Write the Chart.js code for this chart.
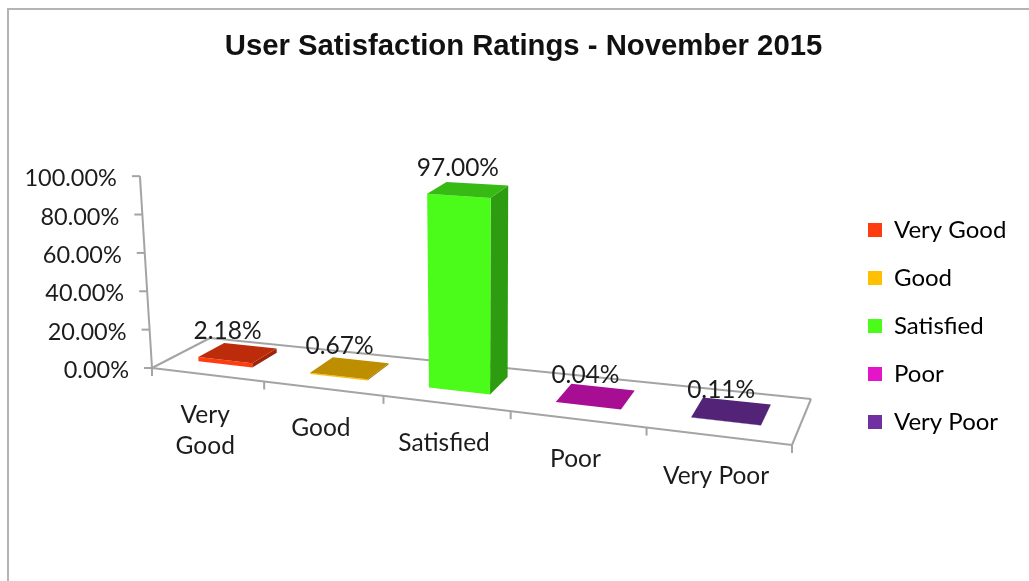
<!DOCTYPE html>
<html>
<head>
<meta charset="utf-8">
<style>html,body{margin:0;padding:0;background:#fff}canvas{display:block}</style>
<script src="https://cdn.jsdelivr.net/npm/chart.js@4"></script>
</head>
<body>
<canvas id="c" width="1029" height="581"></canvas>
<script>
const titleText = 'User Satisfaction Ratings - November 2015';
const categories = [['Very', 'Good'], 'Good', 'Satisfied', 'Poor', 'Very Poor'];
const ratings = [2.18, 0.67, 97.00, 0.04, 0.11];
const barColors = ['#FF3C0F', '#FFC000', '#4BFC1B', '#E414C8', '#7030A0'];
const TEXT = '#1c1c1c', LINE = '#a4a4a4', FONT = 'Lato';

// Look of the 3-D floor the bars stand on
const floorQuad = { fl: [152, 368], fr: [792, 445], br: [811, 399], bl: [210, 338] };
const persp = -0.15, barFront = 0.33, barBack = 0.79;

const tOf = u => u * (1 + persp) / (1 + persp * u);
function project(u, d, h) {
  const t = tOf(u), q = floorQuad;
  const fx = q.fl[0] + (q.fr[0] - q.fl[0]) * t, fy = q.fl[1] + (q.fr[1] - q.fl[1]) * t;
  const bx = q.bl[0] + (q.br[0] - q.bl[0]) * t, by = q.bl[1] + (q.br[1] - q.bl[1]) * t;
  const hh = h * (1 + 0.15 * t - 0.06 * d), lean = -0.063 + 0.13 * t;
  return [fx + (bx - fx) * d + lean * hh, fy + (by - fy) * d - hh];
}
function shade(hex, k) {
  const n = parseInt(hex.slice(1), 16);
  return `rgb(${(n >> 16) * k | 0},${((n >> 8) & 255) * k | 0},${(n & 255) * k | 0})`;
}
function poly(ctx, pts, fill) {
  ctx.beginPath();
  pts.forEach((p, i) => i ? ctx.lineTo(p[0], p[1]) : ctx.moveTo(p[0], p[1]));
  ctx.closePath();
  ctx.fillStyle = fill;
  ctx.fill();
}
function seg(ctx, a, b) {
  ctx.beginPath(); ctx.moveTo(a[0], a[1]); ctx.lineTo(b[0], b[1]); ctx.stroke();
}

const perspective = {
  id: 'perspective',
  afterLayout(chart) {
    const { x, y } = chart.scales, area = chart.chartArea;
    const w = area.right - area.left;
    y.getLabelItems(area).forEach((it, i) => {
      const v = y.ticks[i].value;
      const p = project(0, 0, y.getPixelForValue(0) - y.getPixelForValue(v));
      it.textOffset = 0;
      it.options.textAlign = 'right';
      it.options.textBaseline = 'middle';
      it.options.translation = [p[0] - 23, p[1] + 2.5];
    });
    x.getLabelItems(area).forEach((it, i) => {
      const p = project((x.getPixelForTick(i) - area.left) / w, 0, 0);
      it.textOffset = 0;
      it.options.textAlign = 'center';
      it.options.textBaseline = 'middle';
      it.options.translation = [p[0] - 2, p[1] + 40];
    });
    const lg = chart.legend, pad = lg.options.labels.padding;
    const dx = 868 - (lg.left + pad), dy = 326 - (lg.top + lg.bottom) / 2;
    lg.left += dx; lg.right += dx; lg.top += dy; lg.bottom += dy;
    chart.titleBlock.left += 9; chart.titleBlock.right += 9;
  },
  beforeDraw(chart) {
    const ctx = chart.ctx;
    ctx.save();
    ctx.fillStyle = '#fff';
    ctx.fillRect(0, 0, chart.width, chart.height);
    ctx.strokeStyle = '#b4b4b4';
    ctx.lineWidth = 2;
    ctx.strokeRect(8, 9, chart.width + 20, chart.height + 20);
    ctx.restore();
  },
  beforeDatasetsDraw(chart) {
    const ctx = chart.ctx, { x, y } = chart.scales;
    ctx.save();
    ctx.strokeStyle = LINE;
    ctx.lineWidth = 2;
    const fl = project(0, 0, 0), fr = project(1, 0, 0), br = project(1, 1, 0), bl = project(0, 1, 0);
    seg(ctx, fl, fr); seg(ctx, fr, br); seg(ctx, br, bl); seg(ctx, bl, fl);
    const top = y.getPixelForValue(0) - y.getPixelForValue(y.max);
    seg(ctx, fl, project(0, 0, top));
    y.ticks.forEach(t => {
      const p = project(0, 0, y.getPixelForValue(0) - y.getPixelForValue(t.value));
      seg(ctx, [p[0] - 8, p[1]], p);
    });
    const n = x.ticks.length;
    for (let i = 0; i <= n; i++) {
      const p = project(i / n, 0, 0);
      seg(ctx, p, [p[0], p[1] + 8]);
    }
    ctx.restore();
  },
  beforeDatasetDraw(chart, args) {
    const ctx = chart.ctx, area = chart.chartArea, w = area.right - area.left;
    args.meta.data.forEach((el, i) => {
      const u0 = (el.x - el.width / 2 - area.left) / w, u1 = (el.x + el.width / 2 - area.left) / w;
      const h = el.base - el.y, c = barColors[i];
      const a = project(u0, barFront, 0), b = project(u1, barFront, 0), e = project(u1, barBack, 0);
      const A = project(u0, barFront, h), B = project(u1, barFront, h), E = project(u1, barBack, h), F = project(u0, barBack, h);
      poly(ctx, [b, e, E, B], shade(c, 0.62));
      poly(ctx, [a, b, B, A], c);
      poly(ctx, [A, B, E, F], shade(c, 0.74));
    });
    return false;
  },
  afterDatasetsDraw(chart) {
    const ctx = chart.ctx, area = chart.chartArea, w = area.right - area.left;
    const meta = chart.getDatasetMeta(0);
    ctx.save();
    ctx.font = `24.5px ${FONT}`;
    ctx.fillStyle = TEXT;
    ctx.textAlign = 'center';
    ctx.textBaseline = 'middle';
    meta.data.forEach((el, i) => {
      const p = project((el.x - area.left) / w, (barFront + barBack) / 2, el.base - el.y);
      ctx.fillText(ratings[i].toFixed(2) + '%', p[0] - 10, p[1] - 21.5);
    });
    ctx.restore();
  }
};

new Chart(document.getElementById('c'), {
  type: 'bar',
  data: {
    labels: categories,
    datasets: [{ data: ratings, backgroundColor: barColors, barPercentage: 0.49, categoryPercentage: 1 }]
  },
  plugins: [perspective],
  options: {
    responsive: false,
    animation: false,
    layout: { padding: 0 },
    plugins: {
      tooltip: { enabled: false },
      title: {
        display: true,
        text: titleText,
        color: '#111',
        font: { family: 'Liberation Sans', size: 29.3, weight: 'bold', lineHeight: 1.2 },
        padding: { top: 29, bottom: 112 }
      },
      legend: {
        position: 'right',
        labels: {
          color: TEXT,
          font: { family: FONT, size: 24 },
          boxWidth: 14,
          boxHeight: 14,
          padding: 24,
          generateLabels: () => categories.map((c, i) => ({
            text: Array.isArray(c) ? c.join(' ') : c,
            fillStyle: barColors[i],
            strokeStyle: barColors[i],
            lineWidth: 0,
            hidden: false,
            index: i
          }))
        }
      }
    },
    scales: {
      x: {
        grid: { display: false },
        border: { display: false },
        afterFit: s => { s.height = 213; },
        ticks: { color: TEXT, font: { family: FONT, size: 24.5, lineHeight: 1.3 }, autoSkip: false, maxRotation: 0, minRotation: 0 }
      },
      y: {
        min: 0,
        max: 100,
        grid: { display: false },
        border: { display: false },
        afterFit: s => { s.width = 152; },
        ticks: { stepSize: 20, color: TEXT, font: { family: FONT, size: 23.5 }, callback: v => v.toFixed(2) + '%' }
      }
    }
  }
});
</script>
</body>
</html>
